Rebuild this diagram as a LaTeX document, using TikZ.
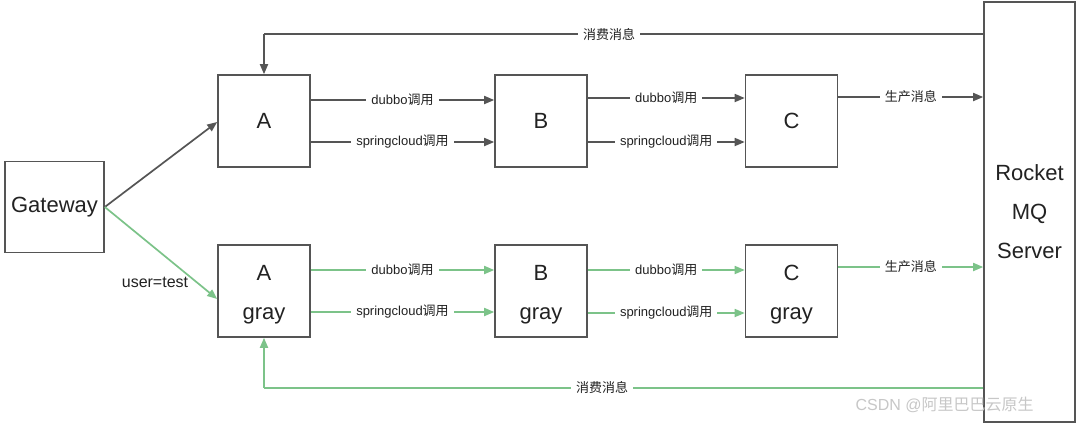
\documentclass[tikz,border=0pt]{standalone}
\usepackage{fontspec}
\setmainfont{Liberation Sans}
\newfontfamily\cjk{Noto Sans CJK SC}
\usetikzlibrary{arrows.meta}
\definecolor{boxc}{HTML}{555555}
\definecolor{linec}{HTML}{555555}
\definecolor{greenc}{HTML}{7CC389}
\definecolor{textc}{HTML}{222222}
\newcommand{\lowline}[1]{\raisebox{-8.5pt}[0pt][0pt]{#1}}
\begin{document}
\begin{tikzpicture}[x=1pt,y=-1pt,
  box/.style={draw=boxc, line width=1.6pt, minimum width=92pt, minimum height=92pt, inner sep=0pt, text=textc, font=\fontsize{22}{39}\selectfont, align=center},
  darkarrow/.style={draw=linec, line width=1.7pt, -{Triangle[length=10pt,width=8pt]}},
  greenarrow/.style={draw=greenc, line width=1.7pt, -{Triangle[length=10pt,width=8pt]}},
  darkline/.style={draw=linec, line width=1.7pt},
  greenline/.style={draw=greenc, line width=1.7pt},
  lbl/.style={fill=white, inner sep=5pt, text=textc, font=\fontsize{13}{15}\selectfont},
  wm/.style={text=black!22, font=\fontsize{16}{18}\selectfont}
]
\useasboundingbox[fill=white] (0,0) rectangle (1080,424);

\node[box, minimum width=99pt, minimum height=91pt] (GW) at (54.5,207) {Gateway};
\node[box] (A) at (264,121) {A};
\node[box] (B) at (541,121) {B};
\node[box] (C) at (791.5,121) {C};
\node[box] (Ag) at (264,291) {\lowline{A}\\\lowline{gray}};
\node[box] (Bg) at (541,291) {\lowline{B}\\\lowline{gray}};
\node[box] (Cg) at (791.5,291) {\lowline{C}\\\lowline{gray}};
\node[box, minimum width=91pt, minimum height=420pt] (MQ) at (1029.5,212) {Rocket\\MQ\\Server};

% Gateway to A / A gray
\draw[darkarrow] (GW.east) -- ([yshift=-1pt]A.west);
\draw[greenarrow] (GW.east) -- ([yshift=-8pt]Ag.west);
\node[text=textc, font=\fontsize{16}{18}\selectfont] (ut) at (155,282) {user=test};

% calls, normal
\draw[darkarrow] ([yshift=21pt]A.east) -- node[lbl] (l1) {dubbo{\cjk 调用}} ([yshift=21pt]B.west);
\draw[darkarrow] ([yshift=-21pt]A.east) -- node[lbl] (l2) {springcloud{\cjk 调用}} ([yshift=-21pt]B.west);
\draw[darkarrow] ([yshift=23pt]B.east) -- node[lbl] (l3) {dubbo{\cjk 调用}} ([yshift=23pt]C.west);
\draw[darkarrow] ([yshift=-21pt]B.east) -- node[lbl] (l4) {springcloud{\cjk 调用}} ([yshift=-21pt]C.west);
\coordinate (p1) at ([yshift=24pt]C.east);
\draw[darkarrow] (p1) -- node[lbl] (l5) {\cjk 生产消息} (p1 -| MQ.west);

% calls, gray
\draw[greenarrow] ([yshift=21pt]Ag.east) -- node[lbl] (g1) {dubbo{\cjk 调用}} ([yshift=21pt]Bg.west);
\draw[greenarrow] ([yshift=-21pt]Ag.east) -- node[lbl] (g2) {springcloud{\cjk 调用}} ([yshift=-21pt]Bg.west);
\draw[greenarrow] ([yshift=21pt]Bg.east) -- node[lbl] (g3) {dubbo{\cjk 调用}} ([yshift=21pt]Cg.west);
\draw[greenarrow] ([yshift=-22pt]Bg.east) -- node[lbl] (g4) {springcloud{\cjk 调用}} ([yshift=-22pt]Cg.west);
\coordinate (p2) at ([yshift=24pt]Cg.east);
\draw[greenarrow] (p2) -- node[lbl] (g5) {\cjk 生产消息} (p2 -| MQ.west);

% consume messages
\coordinate (t1) at ([yshift=40pt]A.north);
\draw[darkline] (t1 -| MQ.west) -- node[lbl, pos=0.52] (c1) {\cjk 消费消息} (t1);
\draw[darkarrow] (t1) -- (A.north);
\coordinate (t2) at ([yshift=-50pt]Ag.south);
\draw[greenline] (t2 -| MQ.west) -- node[lbl, pos=0.53] (c2) {\cjk 消费消息} (t2);
\draw[greenarrow] (t2) -- (Ag.south);

% watermark
\node[wm, anchor=west] (wmk) at (852,405) {CSDN @{\cjk 阿里巴巴云原生}};
\end{tikzpicture}
\end{document}
